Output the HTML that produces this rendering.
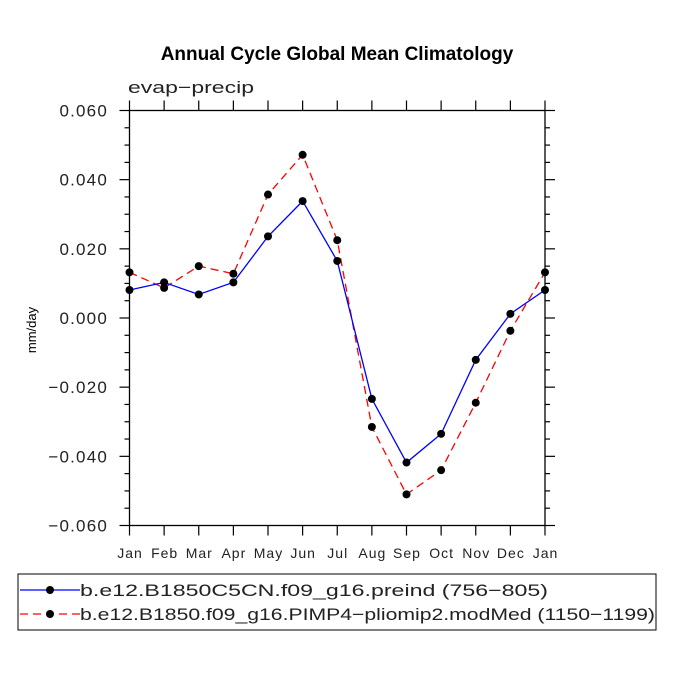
<!DOCTYPE html>
<html><head><meta charset="utf-8"><style>
html,body{margin:0;padding:0;background:#fff;}
svg text{font-family:"Liberation Sans",sans-serif;}
</style></head><body>
<svg id="chart" width="675" height="675" viewBox="0 0 675 675">
<text x="337" y="60" text-anchor="middle" font-size="19" font-weight="bold">Annual Cycle Global Mean Climatology</text>
<text x="128" y="93" font-size="17" fill="#222" textLength="126" lengthAdjust="spacingAndGlyphs">evap−precip</text>
<text transform="translate(36,330) rotate(-90)" text-anchor="middle" font-size="13">mm/day</text>
<g id="axes"></g>
<g id="series"></g>
<rect x="18" y="574" width="638" height="56" fill="none" stroke="#000" stroke-width="1"/>
<g>
<line x1="20" y1="590" x2="80" y2="590" stroke="#0000ff" stroke-width="1.3"/>
<circle cx="50" cy="590" r="4" fill="#000"/>
<text x="80" y="596" font-size="17" fill="#222" textLength="468" lengthAdjust="spacingAndGlyphs">b.e12.B1850C5CN.f09_g16.preind (756−805)</text>
</g>
<g>
<line x1="20" y1="614" x2="80" y2="614" stroke="#ff0000" stroke-width="1.3" stroke-dasharray="8,5"/>
<circle cx="50" cy="614" r="4" fill="#000"/>
<text x="80" y="620" font-size="17" fill="#222" textLength="575" lengthAdjust="spacingAndGlyphs">b.e12.B1850.f09_g16.PIMP4−pliomip2.modMed (1150−1199)</text>
</g>
</svg>
<script>
const months = ["Jan","Feb","Mar","Apr","May","Jun","Jul","Aug","Sep","Oct","Nov","Dec","Jan"];
const preind = [0.0081,0.0103,0.0068,0.0103,0.0236,0.0338,0.0165,-0.0234,-0.0418,-0.0335,-0.0121,0.0012,0.0081];
const pliomip = [0.0132,0.0087,0.0150,0.0128,0.0357,0.0472,0.0225,-0.0315,-0.0510,-0.0440,-0.0245,-0.0037,0.0132];
const yTicks = [0.06,0.04,0.02,0,-0.02,-0.04,-0.06];
const yTickLabels = ["0.060","0.040","0.020","0.000","−0.020","−0.040","−0.060"];

const L=129.5,R=545,T=110.5,B=525.5,ymin=-0.06,ymax=0.06;
const xs=i=>L+(R-L)*i/(months.length-1);
const ys=v=>B-(v-ymin)/(ymax-ymin)*(B-T);
const NS="http://www.w3.org/2000/svg";
function mk(tag,attrs,parent){const e=document.createElementNS(NS,tag);for(const k in attrs)e.setAttribute(k,attrs[k]);parent.appendChild(e);return e;}
const ax=document.getElementById('axes');
const frame=mk('rect',{x:L,y:T,width:R-L,height:B-T,fill:'none',stroke:'#000','stroke-width':1.3},ax);


for(let v=-0.06;v<=0.0601;v+=0.005){
  const y=ys(v);const major=Math.abs(Math.round(v*1000)%20)===0;const len=major?10:5;
  mk('line',{x1:L-len,y1:y,x2:L,y2:y,stroke:'#000','stroke-width':1.2},ax);
  mk('line',{x1:R,y1:y,x2:R+len,y2:y,stroke:'#000','stroke-width':1.2},ax);
}
yTicks.forEach((v,i)=>{
  const t=mk('text',{x:108,y:ys(v)+6,'text-anchor':'end','font-size':17,fill:'#222','letter-spacing':'1.2'},ax);
  t.textContent=yTickLabels[i];
  
  
});
months.forEach((m,i)=>{
  const x=xs(i);
  mk('line',{x1:x,y1:T-10,x2:x,y2:T,stroke:'#000','stroke-width':1.2},ax);
  mk('line',{x1:x,y1:B,x2:x,y2:B+10,stroke:'#000','stroke-width':1.2},ax);
  const t=mk('text',{x:x+0.5,y:558,'text-anchor':'middle','font-size':14,fill:'#222','letter-spacing':'1'},ax);
  t.textContent=m;
  
  
});
const sg=document.getElementById('series');
function draw(vals,color,dash,name){
  const pts=vals.map((v,i)=>xs(i)+','+ys(v)).join(' ');
  const pl=mk('polyline',{points:pts,fill:'none',stroke:color,'stroke-width':1.3},sg);
  if(dash)pl.setAttribute('stroke-dasharray',dash);
  
  
  vals.forEach((v,i)=>{
    const c=mk('circle',{cx:xs(i),cy:ys(v),r:4,fill:'#000'},sg);
    
    
  });
}
draw(pliomip,'#ff0000','8,5','pliomip');
draw(preind,'#0000ff',null,'preind');
</script>
</body></html>
